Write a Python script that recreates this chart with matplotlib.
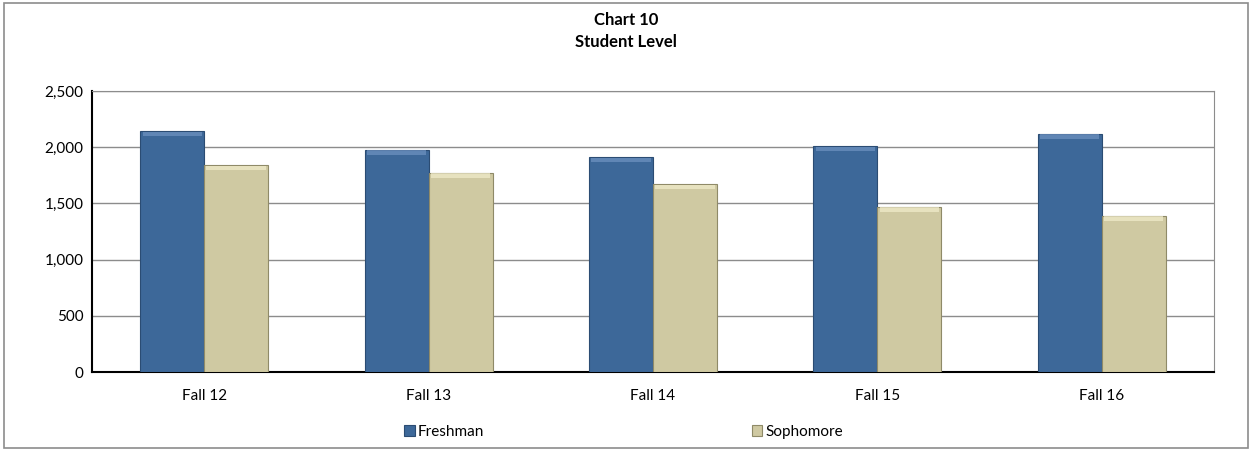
import numpy as np
import matplotlib.pyplot as plt
from matplotlib.ticker import FuncFormatter
from matplotlib.patches import Rectangle

# ---- data ----
terms = ['Fall 12', 'Fall 13', 'Fall 14', 'Fall 15', 'Fall 16']
freshman = [2145, 1978, 1910, 2010, 2120]
sophomore = [1842, 1775, 1672, 1470, 1390]

blue = '#3D6899'
tan = '#CFC9A2'

plt.rcParams['font.family'] = ['Lato', 'DejaVu Sans']

fig = plt.figure(figsize=(12.52, 4.51), dpi=100)
ax = fig.add_axes([0.0735, 0.175, 0.896, 0.623])

x = np.arange(len(terms))
w = 0.285
b1 = ax.bar(x - w / 2, freshman, w, color=blue, edgecolor='#2B4C73', linewidth=0.8,
            label='Freshman', zorder=3)
b2 = ax.bar(x + w / 2, sophomore, w, color=tan, edgecolor='#8F8A68', linewidth=0.8,
            label='Sophomore', zorder=3)

# light bevel strip on the top of each bar
for bars, hi in ((b1, '#6F93C2'), (b2, '#F2EDCC')):
    for r in bars:
        ax.add_patch(Rectangle((r.get_x() + 0.01, r.get_height() - 45), r.get_width() - 0.02, 40,
                               color=hi, alpha=0.7, zorder=4, linewidth=0))

ax.set_xlim(-0.5, len(terms) - 0.5)
ax.set_ylim(0, 2500)
ax.set_yticks(range(0, 2501, 500))
ax.yaxis.set_major_formatter(FuncFormatter(lambda v, p: f'{int(v):,}'))
ax.set_xticks(x)
ax.set_xticklabels(terms)
ax.tick_params(axis='x', length=0, pad=12, labelsize=11)
ax.tick_params(axis='y', length=0, pad=6, labelsize=11)
ax.grid(axis='y', color='#8C8C8C', linewidth=1.0, zorder=0)

for s in ('top', 'right'):
    ax.spines[s].set_color('#8C8C8C')
for s in ('left', 'bottom'):
    ax.spines[s].set_color('black')
    ax.spines[s].set_linewidth(1.5)

fig.text(0.5, 0.955, 'Chart 10', ha='center', va='center', fontsize=12, fontweight='bold')
fig.text(0.5, 0.907, 'Student Level', ha='center', va='center', fontsize=12, fontweight='bold')

fig.legend(handles=[b1, b2], loc='center', bbox_to_anchor=(0.498, 0.042), ncol=2, frameon=False,
           fontsize=11, handlelength=0.7, handleheight=0.7, handletextpad=0.2,
           columnspacing=17.5)

# outer chart border
fig.patches.append(Rectangle((0.003, 0.006), 0.994, 0.988, transform=fig.transFigure,
                             fill=False, edgecolor='#8C8C8C', linewidth=1.2))

fig.savefig('out.png', dpi=100)
